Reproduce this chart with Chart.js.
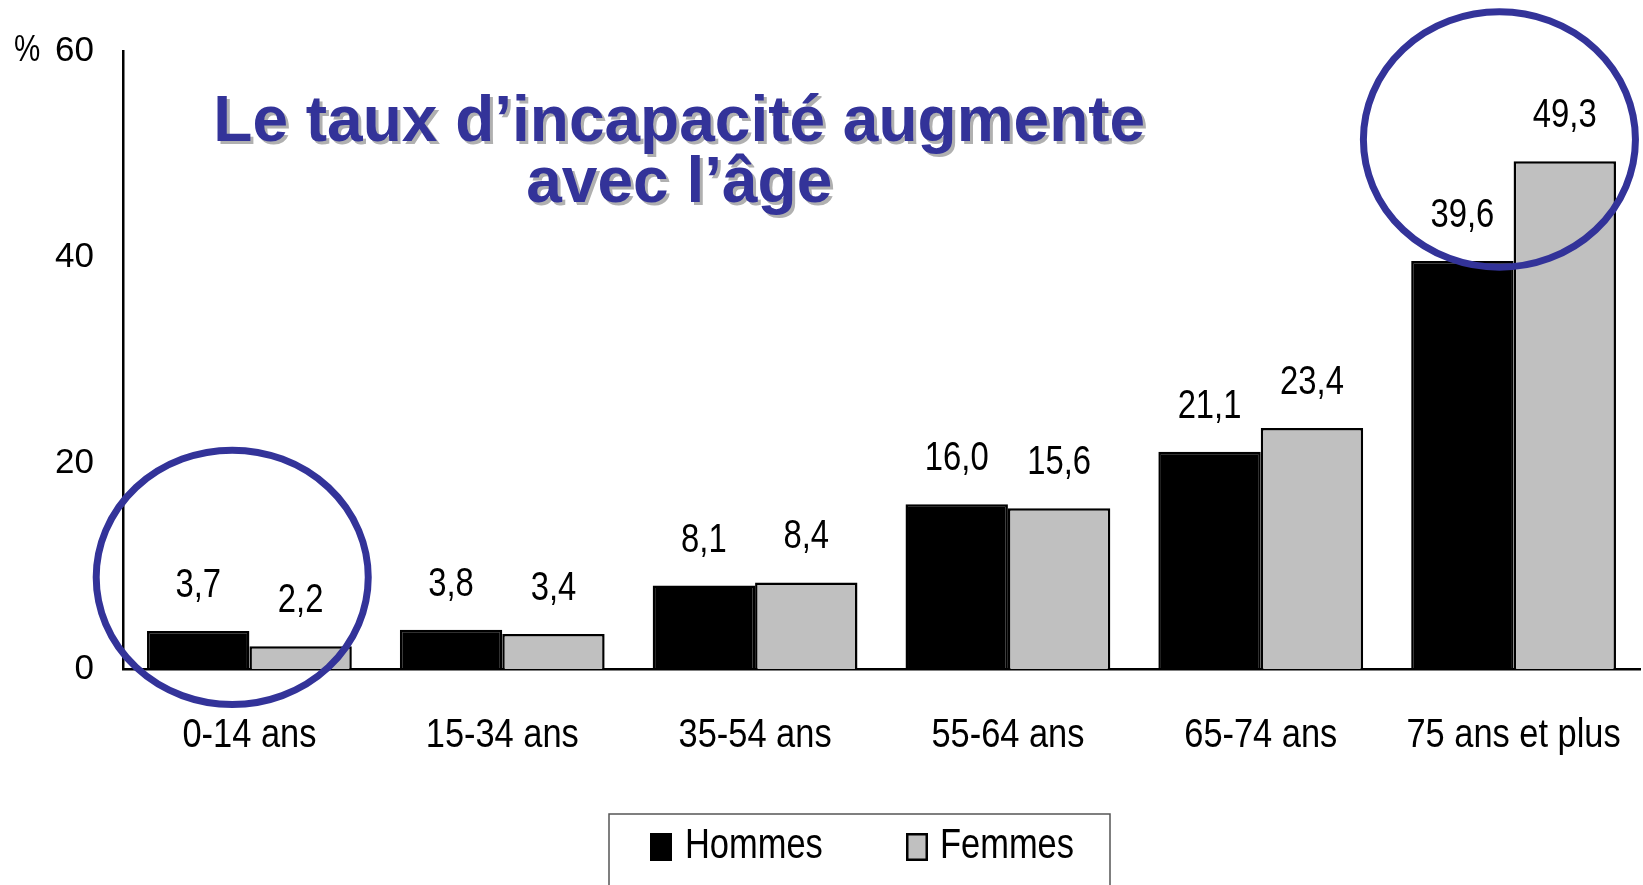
<!DOCTYPE html>
<html>
<head>
<meta charset="utf-8">
<script src="https://cdn.jsdelivr.net/npm/chart.js@4.4.1/dist/chart.umd.min.js"></script>
<style>
  html, body { margin: 0; padding: 0; background: #ffffff; }
  #wrap { width: 1643px; height: 885px; position: relative; }
</style>
</head>
<body>
<div id="wrap"><canvas id="c" width="1643" height="885"></canvas></div>
<script>
// ---- data ----
const categories = ['0-14 ans', '15-34 ans', '35-54 ans', '55-64 ans', '65-74 ans', '75 ans et plus'];
const hommes = [3.7, 3.8, 8.1, 16.0, 21.1, 39.6];
const femmes = [2.2, 3.4, 8.4, 15.6, 23.4, 49.3];
const seriesNames = ['Hommes', 'Femmes'];
const yTicks = [0, 20, 40, 60];
const yUnit = '%';
const titleLines = ['Le taux d\u2019incapacit\u00e9 augmente', 'avec l\u2019\u00e2ge'];

const SANS = "'Liberation Sans', Arial, sans-serif";
const BLUE = '#333399';
const SQX = 0.82;

const fmt = v => v.toFixed(1).replace('.', ',');

function squeezeText(ctx, text, x, y, sx, align) {
  ctx.save();
  ctx.translate(x, y);
  ctx.scale(sx, 1);
  ctx.textAlign = align;
  ctx.fillText(text, 0, 0);
  ctx.restore();
}

const annotPlugin = {
  id: 'annot',
  afterDatasetsDraw(chart) {
    const ctx = chart.ctx;
    ctx.save();
    ctx.font = '40px ' + SANS;
    ctx.fillStyle = '#000';
    ctx.textBaseline = 'alphabetic';
    chart.data.datasets.forEach((ds, di) => {
      const meta = chart.getDatasetMeta(di);
      meta.data.forEach((el, i) => {
        squeezeText(ctx, fmt(ds.data[i]), el.x, el.y - 34, SQX, 'center');
      });
    });
    ctx.restore();
  },
  afterDraw(chart) {
    const ctx = chart.ctx;
    const xs = chart.scales.x, ys = chart.scales.y;
    const catW = (xs.right - xs.left) / categories.length;
    // category labels
    ctx.save();
    ctx.font = '40px ' + SANS;
    ctx.fillStyle = '#000';
    ctx.textBaseline = 'alphabetic';
    chart.data.labels.forEach((lab, i) => {
      squeezeText(ctx, lab, xs.getPixelForValue(i), xs.top + 78, 0.86, 'center');
    });
    ctx.restore();
    // unit label
    ctx.save();
    ctx.font = '36px ' + SANS;
    ctx.fillStyle = '#000';
    ctx.textBaseline = 'middle';
    squeezeText(ctx, yUnit, 14, ys.getPixelForValue(60), 0.82, 'left');
    ctx.restore();
    // title with shadow
    ctx.save();
    ctx.font = 'bold 64px ' + SANS;
    ctx.textAlign = 'center';
    ctx.textBaseline = 'alphabetic';
    const tx = xs.left + catW * 2.2;
    const base = [141, 202];
    titleLines.forEach((t, i) => {
      ctx.fillStyle = '#b0b0b0';
      ctx.fillText(t, tx + 3, base[i] + 3);
      ctx.fillStyle = BLUE;
      ctx.fillText(t, tx, base[i]);
    });
    ctx.restore();
    // ellipses
    const circles = [
      { cat: 0, dx: -0.068, val: 8.9, rx: 0.538, ry: 12.35 },
      { cat: 5, dx: -0.056, val: 51.4, rx: 0.538, ry: 12.4 }
    ];
    ctx.save();
    ctx.strokeStyle = BLUE;
    ctx.lineWidth = 7;
    circles.forEach(c => {
      const cx = xs.getPixelForValue(c.cat) + c.dx * catW;
      const cy = ys.getPixelForValue(c.val);
      const rx = c.rx * catW;
      const ry = Math.abs(ys.getPixelForValue(0) - ys.getPixelForValue(c.ry));
      ctx.beginPath();
      ctx.ellipse(cx, cy, rx, ry, 0, 0, Math.PI * 2);
      ctx.stroke();
    });
    ctx.restore();
    // legend
    ctx.save();
    const L = { x: 609, y: 814, w: 501, h: 120 };
    ctx.strokeStyle = '#555';
    ctx.lineWidth = 1.5;
    ctx.strokeRect(L.x, L.y, L.w, L.h);
    ctx.font = '42px ' + SANS;
    ctx.textBaseline = 'middle';
    const items = [{ bx: 650, tx: 685 }, { bx: 906, tx: 940 }];
    chart.data.datasets.forEach((ds, i) => {
      const it = items[i];
      ctx.fillStyle = ds.backgroundColor;
      ctx.fillRect(it.bx, 833, 22, 28);
      ctx.strokeStyle = ds.borderColor;
      ctx.lineWidth = 2.5;
      ctx.strokeRect(it.bx + 1.25, 834.25, 19.5, 25.5);
      ctx.fillStyle = '#000';
      squeezeText(ctx, ds.label, it.tx, 846, SQX, 'left');
    });
    ctx.restore();
  }
};

new Chart(document.getElementById('c'), {
  type: 'bar',
  data: {
    labels: categories,
    datasets: [
      { label: seriesNames[0], data: hommes, backgroundColor: '#000000', borderColor: '#000000', borderWidth: 2.5 },
      { label: seriesNames[1], data: femmes, backgroundColor: '#c0c0c0', borderColor: '#000000', borderWidth: 2.5 }
    ]
  },
  options: {
    responsive: false,
    animation: false,
    devicePixelRatio: 1,
    layout: { padding: { top: 51, right: 3, bottom: 0, left: 0 } },
    datasets: { bar: { categoryPercentage: 0.81, barPercentage: 1.0 } },
    plugins: {
      legend: { display: false },
      tooltip: { enabled: false },
      title: { display: false }
    },
    scales: {
      x: {
        grid: { display: false, drawTicks: false },
        border: { display: true, color: '#000', width: 2.5 },
        ticks: { display: false },
        afterFit(scale) { scale.height = 216; scale.paddingLeft = 0; scale.paddingRight = 0; }
      },
      y: {
        min: 0, max: 60,
        afterBuildTicks(scale) { scale.ticks = yTicks.map(v => ({ value: v })); },
        grid: { display: false, drawTicks: false },
        border: { display: true, color: '#000', width: 2.5 },
        ticks: { color: '#000', font: { family: SANS, size: 35 }, padding: 29 },
        afterFit(scale) { scale.width = 123; }
      }
    }
  },
  plugins: [annotPlugin]
});
</script>
</body>
</html>
